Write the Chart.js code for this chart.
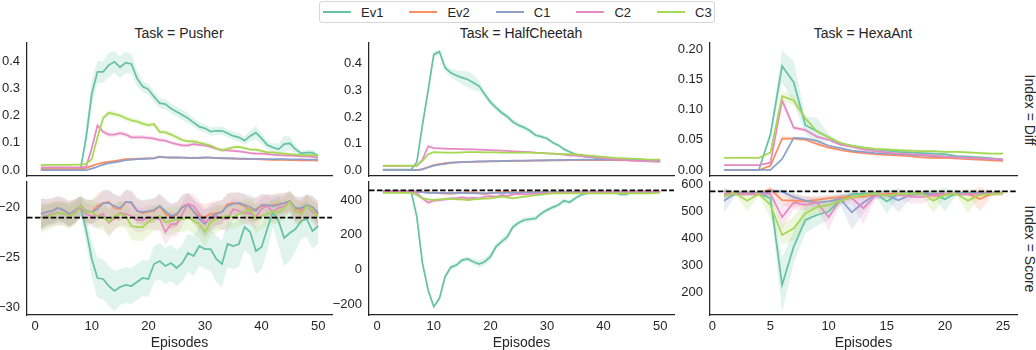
<!DOCTYPE html>
<html>
<head>
<meta charset="utf-8">
<title>Diff and Score by task</title>
<script src="https://cdn.jsdelivr.net/npm/chart.js@4.4.1/dist/chart.umd.min.js"></script>
<style>
  body { margin: 0; width: 1036px; height: 350px; background: #fff; position: relative; overflow: hidden;
         font-family: 'Liberation Sans', Arial, sans-serif; color: #262626; }
  canvas { position: absolute; }
  .title { position: absolute; font-size: 14px; transform: translate(-50%, -50%); white-space: nowrap; }
  .rowlab { position: absolute; font-size: 14px; transform: translate(-50%, -50%) rotate(90deg); white-space: nowrap; }
  #legend { position: absolute; left: 319px; top: 1px; width: 396px; height: 22px; box-sizing: border-box;
            border: 1px solid #d6d6d6; border-radius: 3px; display: flex; align-items: center; padding-left: 3px;
            font-size: 13px; }
  .item { display: flex; align-items: center; margin-right: 26px; }
  .swatch { width: 28px; height: 2px; margin-right: 10px; }
</style>
</head>
<body>
<div id="legend"></div>
<div class="title" style="left:179px; top:33px">Task = Pusher</div>
<div class="title" style="left:521px; top:33px">Task = HalfCheetah</div>
<div class="title" style="left:863px; top:33px">Task = HexaAnt</div>
<div class="rowlab" style="left:1030px; top:110px">Index = Diff</div>
<div class="rowlab" style="left:1030px; top:249px">Index = Score</div>

<canvas id="c00" width="356" height="142" style="left:-18px; top:37px"></canvas>
<canvas id="c01" width="356" height="142" style="left:324px; top:37px"></canvas>
<canvas id="c02" width="358" height="142" style="left:665px; top:37px"></canvas>
<canvas id="c10" width="356" height="174" style="left:-18px; top:176px"></canvas>
<canvas id="c11" width="356" height="174" style="left:324px; top:176px"></canvas>
<canvas id="c12" width="358" height="174" style="left:665px; top:176px"></canvas>

<script>
// series
const seriesNames = ['Ev1', 'Ev2', 'C1', 'C2', 'C3'];
const seriesColors = ['#66c2a5', '#fc8d62', '#8da0cb', '#e78ac3', '#a6d854'];

// episodes (x categories)
const episodes50 = [1,2,3,4,5,6,7,8,9,10,11,12,13,14,15,16,17,18,19,20,21,22,23,24,25,
  26,27,28,29,30,31,32,33,34,35,36,37,38,39,40,41,42,43,44,45,46,47,48,49,50];
const episodes25 = [1,2,3,4,5,6,7,8,9,10,11,12,13,14,15,16,17,18,19,20,21,22,23,24,25];

// tick labels
const xTicks50 = [0, 10, 20, 30, 40, 50];
const xTicks25 = [0, 5, 10, 15, 20, 25];
const diffTicks = [0, 0.1, 0.2, 0.3, 0.4];
const hexaDiffTicks = [0, 0.05, 0.1, 0.15, 0.2];
const pusherScoreTicks = [-30, -25, -20];
const cheetahScoreTicks = [-200, 0, 200, 400];
const hexaScoreTicks = [200, 300, 400, 500, 600];

// dashed reference score per task
const refScores = [-21.05, 456, 573];

// ---- Pusher / Diff ----
const pusherDiffEv1 = [0.003,0.003,0.003,0.003,0.003,0.003,0.003,0.003,
  0.12,0.28,0.36,0.36,0.385,0.397,0.377,0.394,0.389,0.336,0.306,0.296,
  0.269,0.245,0.242,0.226,0.214,0.202,0.19,0.174,0.159,0.153,
  0.141,0.144,0.144,0.135,0.125,0.12,0.108,0.125,0.137,0.116,
  0.092,0.083,0.076,0.095,0.098,0.076,0.061,0.064,0.064,0.051];
const pusherDiffEv1Err = [0.002,0.002,0.002,0.002,0.002,0.002,0.002,0.002,
  0.03,0.05,0.04,0.04,0.045,0.04,0.04,0.04,0.035,0.03,0.02,0.02,
  0.02,0.018,0.018,0.018,0.018,0.018,0.018,0.015,0.015,0.015,
  0.015,0.015,0.015,0.015,0.015,0.015,0.015,0.02,0.025,0.02,
  0.015,0.015,0.02,0.03,0.025,0.015,0.01,0.01,0.01,0.01];
const pusherDiffEv2 = [0.003,0.003,0.003,0.003,0.003,0.003,0.003,0.003,
  0.008,0.015,0.022,0.027,0.03,0.033,0.036,0.04,0.04,0.041,0.042,0.043,
  0.044,0.048,0.046,0.046,0.045,0.045,0.044,0.045,0.044,0.045,
  0.045,0.044,0.043,0.043,0.042,0.041,0.04,0.04,0.04,0.039,
  0.038,0.037,0.037,0.037,0.036,0.036,0.035,0.035,0.035,0.034];
const pusherDiffEv2Err = [0.002,0.002,0.002,0.002,0.002,0.002,0.002,0.002,
  0.003,0.004,0.004,0.004,0.004,0.004,0.004,0.004,0.004,0.004,0.004,0.004,
  0.004,0.004,0.004,0.004,0.004,0.003,0.003,0.003,0.003,0.003,
  0.003,0.003,0.003,0.003,0.003,0.003,0.003,0.003,0.003,0.003,
  0.003,0.003,0.003,0.003,0.003,0.003,0.003,0.003,0.003,0.003];
const pusherDiffC1 = [0,0,0,0,0,0,0,0,
  0,0.005,0.012,0.02,0.025,0.028,0.032,0.036,0.038,0.04,0.041,0.042,
  0.043,0.049,0.046,0.045,0.046,0.045,0.045,0.044,0.045,0.046,
  0.045,0.044,0.044,0.043,0.043,0.042,0.042,0.041,0.041,0.041,
  0.04,0.04,0.04,0.04,0.039,0.039,0.039,0.038,0.038,0.038];
const pusherDiffC1Err = [0.001,0.001,0.001,0.001,0.001,0.001,0.001,0.001,
  0.001,0.003,0.004,0.004,0.004,0.004,0.004,0.004,0.004,0.004,0.004,0.004,
  0.004,0.004,0.004,0.004,0.004,0.003,0.003,0.003,0.003,0.003,
  0.003,0.003,0.003,0.003,0.003,0.003,0.003,0.003,0.003,0.003,
  0.003,0.003,0.003,0.003,0.003,0.003,0.003,0.003,0.003,0.003];
const pusherDiffC2 = [0.01,0.01,0.01,0.01,0.01,0.01,0.01,0.01,
  0.012,0.08,0.163,0.14,0.13,0.13,0.135,0.13,0.12,0.12,0.12,0.118,
  0.115,0.11,0.108,0.1,0.095,0.09,0.09,0.095,0.092,0.09,
  0.085,0.078,0.073,0.072,0.07,0.068,0.066,0.062,0.06,0.06,
  0.058,0.056,0.055,0.054,0.053,0.052,0.05,0.05,0.048,0.046];
const pusherDiffC2Err = [0.002,0.002,0.002,0.002,0.002,0.002,0.002,0.002,
  0.003,0.01,0.01,0.01,0.01,0.009,0.009,0.009,0.008,0.008,0.008,0.008,
  0.008,0.008,0.007,0.007,0.007,0.007,0.007,0.007,0.007,0.006,
  0.006,0.006,0.006,0.006,0.006,0.005,0.005,0.005,0.005,0.005,
  0.005,0.005,0.005,0.005,0.005,0.004,0.004,0.004,0.004,0.004];
const pusherDiffC3 = [0.018,0.019,0.019,0.019,0.019,0.019,0.02,0.02,
  0.022,0.04,0.12,0.19,0.21,0.205,0.2,0.19,0.182,0.178,0.17,0.165,
  0.168,0.14,0.138,0.13,0.12,0.11,0.105,0.105,0.1,0.095,
  0.09,0.08,0.072,0.078,0.083,0.085,0.08,0.075,0.075,0.07,
  0.065,0.065,0.062,0.06,0.058,0.056,0.055,0.055,0.055,0.052];
const pusherDiffC3Err = [0.002,0.002,0.002,0.002,0.002,0.002,0.002,0.002,
  0.003,0.008,0.012,0.01,0.01,0.01,0.01,0.01,0.01,0.01,0.01,0.01,
  0.01,0.01,0.009,0.009,0.009,0.008,0.008,0.008,0.008,0.008,
  0.007,0.007,0.007,0.007,0.007,0.007,0.006,0.006,0.006,0.006,
  0.005,0.005,0.005,0.005,0.005,0.005,0.005,0.005,0.005,0.005];

// ---- Pusher / Score ----
const pusherScoreEv1 = [-21.0,-20.9,-20.7,-20.6,-20.6,-20.9,-20.6,-19.9,
  -22.3,-25.2,-27.1,-27.2,-27.9,-28.4,-28.0,-27.8,-27.9,-27.5,-27.1,-27.2,
  -25.7,-25.4,-25.9,-25.6,-26.1,-25.6,-24.6,-24.9,-23.9,-24.2,
  -24.2,-25.2,-25.7,-23.7,-23.9,-23.7,-22.0,-22.5,-24.4,-24.0,
  -22.2,-20.5,-21.4,-23.1,-22.6,-22.2,-21.4,-21.2,-22.4,-21.9];
const pusherScoreEv1Err = [1.0,1.0,1.0,1.0,1.0,1.0,1.0,1.0,
  1.2,1.8,2.0,2.0,2.0,2.0,1.8,1.8,1.8,1.8,1.8,1.8,
  1.8,1.8,1.8,1.8,1.8,1.8,1.9,2.0,2.0,2.0,
  2.2,2.3,2.3,2.3,2.3,2.3,2.3,2.3,2.3,2.3,
  2.2,1.5,2.5,2.8,2.8,2.2,1.8,1.8,1.8,1.8];
const pusherScoreEv2 = [-20.7,-20.5,-20.4,-20.1,-20.3,-20.7,-20.4,-19.9,
  -20.4,-20.5,-19.9,-19.6,-19.5,-20.1,-20.2,-19.5,-19.6,-20.4,-20.6,-20.5,
  -20.4,-19.9,-20.7,-21.0,-20.8,-20.0,-19.7,-20.5,-20.9,-21.0,
  -20.7,-20.6,-20.5,-19.7,-19.6,-19.7,-19.9,-20.4,-20.2,-19.9,
  -19.9,-19.8,-19.7,-19.6,-19.4,-20.2,-20.3,-19.9,-20.0,-20.7];
const pusherScoreEv2Err = [1.5,1.3,1.2,1.2,1.2,1.3,1.2,1.0,
  1.1,1.2,1.2,1.2,1.2,1.3,1.2,1.2,1.1,1.2,1.2,1.2,
  1.2,1.2,1.3,1.3,1.2,1.2,1.1,1.2,1.3,1.3,
  1.2,1.2,1.2,1.1,1.1,1.1,1.2,1.2,1.2,1.1,
  1.1,1.1,1.1,1.0,1.0,1.2,1.2,1.1,1.1,1.2];
const pusherScoreC1 = [-20.7,-20.5,-20.4,-20.1,-20.3,-20.7,-20.4,-19.9,
  -20.4,-20.5,-20.2,-19.6,-19.6,-19.9,-20.1,-19.5,-19.5,-20.4,-20.5,-20.4,
  -20.3,-19.9,-20.4,-20.9,-20.7,-20.0,-19.8,-20.4,-21.2,-21.7,
  -21.0,-20.7,-20.5,-19.9,-19.7,-19.6,-19.8,-20.0,-20.4,-19.8,
  -19.8,-19.9,-19.8,-19.6,-19.4,-20.1,-20.1,-19.8,-20.0,-20.6];
const pusherScoreC1Err = [1.6,1.3,1.3,1.2,1.2,1.3,1.2,1.0,
  1.2,1.2,1.2,1.3,1.3,1.2,1.2,1.2,1.2,1.3,1.2,1.2,
  1.2,1.2,1.3,1.2,1.2,1.2,1.2,1.2,1.3,1.4,
  1.3,1.2,1.2,1.2,1.1,1.1,1.1,1.2,1.2,1.1,
  1.1,1.1,1.1,1.0,1.0,1.2,1.1,1.1,1.1,1.2];
const pusherScoreC2 = [-21.0,-20.9,-20.7,-20.6,-20.7,-20.8,-20.5,-20.1,
  -20.7,-20.9,-20.9,-20.7,-21.6,-21.1,-20.6,-20.7,-20.9,-21.3,-21.3,-21.0,
  -21.1,-21.2,-22.5,-21.7,-21.7,-20.7,-19.7,-19.9,-20.7,-21.5,
  -21.2,-20.9,-21.1,-21.2,-20.2,-20.4,-20.6,-20.6,-21.0,-20.2,
  -19.9,-20.5,-20.1,-19.9,-19.5,-20.5,-20.5,-19.9,-20.5,-20.9];
const pusherScoreC2Err = [1.3,1.2,1.2,1.2,1.2,1.2,1.2,1.0,
  1.1,1.1,1.2,1.2,1.4,1.2,1.2,1.2,1.2,1.3,1.2,1.2,
  1.2,1.2,1.3,1.3,1.2,1.2,1.1,1.2,1.3,1.3,
  1.2,1.2,1.2,1.2,1.1,1.1,1.1,1.2,1.2,1.1,
  1.1,1.1,1.1,1.0,1.0,1.2,1.2,1.1,1.1,1.2];
const pusherScoreC3 = [-21.1,-21.0,-20.8,-20.6,-20.6,-20.9,-20.6,-19.9,
  -20.5,-20.5,-20.9,-21.0,-21.5,-20.9,-20.7,-20.9,-21.9,-22.0,-22.0,-21.5,
  -21.1,-20.9,-21.5,-21.4,-21.2,-21.2,-21.0,-21.4,-21.7,-22.5,
  -21.5,-21.2,-21.0,-20.9,-21.0,-20.7,-20.5,-20.2,-21.2,-20.9,
  -20.7,-20.5,-20.5,-20.1,-19.5,-20.4,-20.7,-19.9,-20.3,-21.0];
const pusherScoreC3Err = [1.5,1.3,1.3,1.2,1.2,1.3,1.2,1.0,
  1.1,1.2,1.3,1.3,1.4,1.3,1.3,1.3,1.4,1.4,1.4,1.3,
  1.3,1.3,1.4,1.4,1.3,1.3,1.3,1.3,1.4,1.5,
  1.3,1.3,1.3,1.2,1.2,1.2,1.2,1.2,1.5,1.3,
  1.2,1.2,1.2,1.1,1.1,1.2,1.2,1.1,1.1,1.2];

// ---- HalfCheetah / Diff ----
const cheetahDiffEv1 = [0.002,0.002,0.002,0.002,0.002,0.002,0.03,0.17,0.3,0.435,
  0.445,0.385,0.366,0.356,0.348,0.341,0.329,0.316,0.285,0.256,
  0.235,0.216,0.201,0.181,0.169,0.16,0.148,0.131,0.126,0.119,
  0.104,0.094,0.079,0.069,0.06,0.054,0.05,0.048,0.044,0.041,
  0.04,0.039,0.038,0.038,0.037,0.037,0.036,0.036,0.035,0.035];
const cheetahDiffEv1Err = [0.001,0.001,0.001,0.001,0.001,0.001,0.005,0.01,0.01,0.01,
  0.01,0.012,0.015,0.02,0.025,0.03,0.028,0.02,0.012,0.012,
  0.012,0.01,0.01,0.01,0.01,0.01,0.01,0.008,0.008,0.008,
  0.006,0.006,0.006,0.006,0.006,0.005,0.005,0.005,0.005,0.005,
  0.004,0.004,0.004,0.004,0.004,0.004,0.004,0.004,0.004,0.004];
const cheetahDiffEv2 = [0,0,0,0,0,0,0,0.004,0.012,0.019,
  0.023,0.026,0.028,0.029,0.03,0.031,0.031,0.032,0.032,0.033,
  0.033,0.034,0.034,0.034,0.035,0.035,0.035,0.036,0.036,0.036,
  0.037,0.037,0.037,0.038,0.038,0.038,0.038,0.038,0.038,0.038,
  0.038,0.038,0.037,0.037,0.037,0.037,0.036,0.036,0.036,0.036];
const cheetahDiffEv2Err = [0.001,0.001,0.001,0.001,0.001,0.001,0.001,0.002,0.002,0.002,
  0.002,0.002,0.002,0.002,0.002,0.002,0.002,0.002,0.002,0.002,
  0.002,0.002,0.002,0.002,0.002,0.002,0.002,0.002,0.002,0.002,
  0.002,0.002,0.002,0.002,0.002,0.002,0.002,0.002,0.002,0.002,
  0.002,0.002,0.002,0.002,0.002,0.002,0.002,0.002,0.002,0.002];
const cheetahDiffC1 = [0,0,0,0,0,0,0,0.003,0.01,0.017,
  0.021,0.024,0.027,0.029,0.03,0.031,0.032,0.033,0.033,0.034,
  0.034,0.035,0.035,0.036,0.036,0.036,0.037,0.037,0.037,0.038,
  0.038,0.038,0.039,0.039,0.039,0.04,0.04,0.04,0.04,0.04,
  0.04,0.04,0.039,0.039,0.039,0.039,0.038,0.038,0.038,0.038];
const cheetahDiffC1Err = [0.001,0.001,0.001,0.001,0.001,0.001,0.001,0.002,0.002,0.002,
  0.002,0.002,0.002,0.002,0.002,0.002,0.002,0.002,0.002,0.002,
  0.002,0.002,0.002,0.002,0.002,0.002,0.002,0.002,0.002,0.002,
  0.002,0.002,0.002,0.002,0.002,0.002,0.002,0.002,0.002,0.002,
  0.002,0.002,0.002,0.002,0.002,0.002,0.002,0.002,0.002,0.002];
const cheetahDiffC2 = [0.016,0.016,0.016,0.016,0.016,0.016,0.016,0.04,0.09,0.083,
  0.082,0.081,0.08,0.08,0.079,0.078,0.078,0.077,0.076,0.075,
  0.074,0.073,0.072,0.071,0.07,0.069,0.068,0.066,0.065,0.063,
  0.062,0.06,0.058,0.056,0.055,0.053,0.051,0.049,0.047,0.045,
  0.043,0.041,0.04,0.038,0.036,0.035,0.034,0.033,0.032,0.031];
const cheetahDiffC2Err = [0.001,0.001,0.001,0.001,0.001,0.001,0.001,0.003,0.004,0.003,
  0.003,0.003,0.003,0.003,0.003,0.003,0.003,0.003,0.003,0.003,
  0.003,0.003,0.003,0.003,0.003,0.003,0.003,0.003,0.003,0.003,
  0.002,0.002,0.002,0.002,0.002,0.002,0.002,0.002,0.002,0.002,
  0.002,0.002,0.002,0.002,0.002,0.002,0.002,0.002,0.002,0.002];
const cheetahDiffC3 = [0.017,0.017,0.017,0.017,0.017,0.017,0.017,0.035,0.06,0.068,
  0.067,0.066,0.066,0.066,0.067,0.068,0.068,0.068,0.067,0.067,
  0.067,0.066,0.066,0.066,0.066,0.066,0.066,0.065,0.064,0.063,
  0.062,0.061,0.06,0.06,0.059,0.058,0.056,0.054,0.052,0.05,
  0.048,0.046,0.045,0.044,0.043,0.042,0.041,0.04,0.04,0.04];
const cheetahDiffC3Err = [0.001,0.001,0.001,0.001,0.001,0.001,0.001,0.003,0.003,0.003,
  0.003,0.003,0.003,0.003,0.003,0.003,0.003,0.003,0.003,0.003,
  0.003,0.003,0.003,0.003,0.003,0.003,0.003,0.003,0.003,0.003,
  0.002,0.002,0.002,0.002,0.002,0.002,0.002,0.002,0.002,0.002,
  0.002,0.002,0.002,0.002,0.002,0.002,0.002,0.002,0.002,0.002];

// ---- HalfCheetah / Score ----
const cheetahScoreEv1 = [448,448,448,448,448,448,304,35,-119,-215,
  -167,-42,12,25,54,60,44,31,44,73,
  131,160,188,246,269,285,290,294,323,342,
  358,371,396,387,410,429,438,442,444,444,
  444,444,432,432,448,448,448,448,448,448];
const cheetahScoreEv1Err = [4,4,4,4,4,4,12,15,12,10,
  12,15,15,15,15,15,18,22,22,20,
  18,20,22,18,15,15,15,15,14,14,
  14,12,12,12,10,8,8,8,6,6,
  6,6,12,12,6,5,5,5,5,5];
const cheetahScoreEv2 = [450,450,450,450,450,450,448,446,444,443,
  440,438,437,440,443,445,444,442,435,440,
  444,446,447,445,444,446,446,447,447,447,
  447,447,447,447,447,448,448,448,448,448,
  448,448,448,448,448,448,448,448,448,448];
const cheetahScoreEv2Err = [4,4,4,4,4,4,5,6,6,6,
  8,10,10,8,6,6,6,8,10,8,
  6,5,5,5,5,4,4,4,4,4,
  4,4,4,4,4,4,4,4,4,4,
  4,4,4,4,4,4,4,4,4,4];
const cheetahScoreC1 = [450,450,450,450,450,450,447,445,442,442,
  442,441,440,441,441,440,440,438,438,440,
  442,442,441,442,443,444,444,445,445,445,
  445,446,446,446,446,446,447,447,447,447,
  447,447,447,447,447,447,447,447,447,447];
const cheetahScoreC1Err = [4,4,4,4,4,4,5,6,6,6,
  7,8,8,8,7,7,8,8,8,7,
  6,6,6,5,5,5,5,5,4,4,
  4,4,4,4,4,4,4,4,4,4,
  4,4,4,4,4,4,4,4,4,4];
const cheetahScoreC2 = [452,452,452,452,452,452,440,410,385,396,
  400,404,410,410,415,410,413,410,419,423,
  419,429,423,433,435,433,435,435,438,440,
  442,442,443,443,444,444,444,445,445,445,
  446,446,446,447,447,447,448,448,448,448];
const cheetahScoreC2Err = [4,4,4,4,4,4,8,12,15,12,
  10,10,10,10,10,10,10,10,8,8,
  8,8,8,8,6,6,6,6,6,6,
  5,5,5,5,5,5,5,5,5,5,
  4,4,4,4,4,4,4,4,4,4];
const cheetahScoreC3 = [442,442,442,442,442,442,429,410,404,400,
  404,406,408,404,404,400,404,406,408,410,
  415,419,415,410,415,419,423,429,431,435,
  438,438,438,438,438,438,438,438,438,438,
  438,438,438,438,438,438,438,438,440,442];
const cheetahScoreC3Err = [4,4,4,4,4,4,6,8,8,8,
  7,7,7,7,7,7,7,7,7,7,
  7,7,7,7,7,6,6,6,6,6,
  5,5,5,5,5,5,5,5,5,5,
  4,4,4,4,4,4,4,4,4,4];

// ---- HexaAnt / Diff ----
const hexaDiffEv1 = [0,0,0,0,0.059,0.172,0.145,0.074,0.064,0.054,
  0.043,0.04,0.037,0.034,0.032,0.03,0.029,0.028,0.027,0.026,
  0.023,0.022,0.021,0.019,0.017];
const hexaDiffEv1Err = [0.0005,0.0005,0.0005,0.0005,0.005,0.026,0.035,0.014,0.022,0.006,
  0.003,0.002,0.002,0.002,0.002,0.002,0.002,0.002,0.002,0.002,
  0.002,0.002,0.002,0.002,0.002];
const hexaDiffEv2 = [0,0,0,0,0.007,0.052,0.052,0.05,0.043,0.037,
  0.033,0.03,0.028,0.026,0.025,0.024,0.023,0.021,0.02,0.02,
  0.019,0.018,0.017,0.016,0.015];
const hexaDiffEv2Err = [0.0005,0.0005,0.0005,0.0005,0.002,0.004,0.003,0.002,0.002,0.002,
  0.002,0.002,0.002,0.002,0.002,0.002,0.002,0.002,0.002,0.002,
  0.002,0.002,0.002,0.002,0.002];
const hexaDiffC1 = [0,0,0,0,0,0.018,0.053,0.052,0.048,0.04,
  0.036,0.032,0.03,0.028,0.027,0.026,0.025,0.024,0.023,0.022,
  0.021,0.02,0.019,0.018,0.017];
const hexaDiffC1Err = [0.0005,0.0005,0.0005,0.0005,0.0005,0.003,0.002,0.002,0.002,0.002,
  0.002,0.002,0.002,0.002,0.002,0.002,0.002,0.002,0.002,0.002,
  0.002,0.002,0.002,0.002,0.002];
const hexaDiffC2 = [0.008,0.008,0.008,0.008,0.012,0.115,0.07,0.066,0.055,0.05,
  0.042,0.038,0.034,0.031,0.029,0.027,0.026,0.025,0.024,0.022,
  0.021,0.02,0.019,0.018,0.017];
const hexaDiffC2Err = [0.0005,0.0005,0.0005,0.0005,0.002,0.008,0.004,0.003,0.003,0.002,
  0.002,0.002,0.002,0.002,0.002,0.002,0.002,0.002,0.002,0.002,
  0.002,0.002,0.002,0.002,0.002];
const hexaDiffC3 = [0.02,0.02,0.02,0.02,0.029,0.122,0.115,0.085,0.064,0.054,
  0.045,0.04,0.037,0.035,0.034,0.033,0.032,0.031,0.031,0.03,
  0.03,0.029,0.028,0.027,0.027];
const hexaDiffC3Err = [0.0005,0.0005,0.0005,0.0005,0.002,0.008,0.008,0.004,0.003,0.002,
  0.002,0.002,0.002,0.002,0.002,0.002,0.002,0.002,0.002,0.002,
  0.002,0.002,0.002,0.002,0.002];

// ---- HexaAnt / Score ----
const hexaScoreEv1 = [560,566,566,566,548,227,369,468,486,499,
  542,564,564,567,536,564,566,566,564,544,
  567,567,567,567,567];
const hexaScoreEv1Err = [25,8,8,8,20,100,60,50,40,30,
  20,10,10,8,45,10,8,8,10,45,
  8,8,8,8,8];
const hexaScoreEv2 = [564,566,566,566,580,541,539,536,542,548,
  552,554,554,560,564,564,564,566,557,564,
  564,564,545,564,569];
const hexaScoreEv2Err = [10,8,8,8,10,20,25,20,15,12,
  10,10,10,8,8,8,8,8,15,8,
  8,8,45,10,10];
const hexaScoreC1 = [539,566,566,566,573,573,552,539,532,536,
  545,496,532,560,560,540,560,564,564,564,
  564,564,567,567,567];
const hexaScoreC1Err = [45,8,8,8,8,10,15,15,20,20,
  20,65,40,15,15,45,15,10,10,10,
  8,8,8,8,8];
const hexaScoreC2 = [564,564,564,564,564,478,532,523,532,478,
  542,548,511,557,560,560,554,552,560,564,
  564,564,564,567,567];
const hexaScoreC2Err = [10,8,8,8,8,45,25,20,20,50,
  15,20,60,15,10,10,25,25,10,8,
  8,8,8,8,8];
const hexaScoreC3 = [557,566,539,564,523,412,437,492,515,523,
  539,552,560,566,557,564,564,566,539,560,
  564,539,560,564,567];
const hexaScoreC3Err = [15,8,40,8,50,35,45,40,25,20,
  15,10,10,8,10,8,8,8,45,10,
  8,45,10,8,8];

// ---------------------------------------------------------------

const axisColor = '#262626';
Chart.defaults.font.family = "'Liberation Sans', Arial, sans-serif";
Chart.defaults.color = axisColor;

function fmt(v, dec) {
  const s = Math.abs(v).toFixed(dec);
  return v < 0 ? '\u2212' + s : s;
}

function rgba(hex, a) {
  const n = parseInt(hex.slice(1), 16);
  return `rgba(${(n >> 16) & 255}, ${(n >> 8) & 255}, ${n & 255}, ${a})`;
}

// bands + lines (+ dashed reference)
function buildDatasets(xs, means, errs, ref, xMin, xMax) {
  const ds = [];
  means.forEach((m, i) => {
    ds.push({ data: xs.map((x, k) => ({ x, y: m[k] + errs[i][k] })), borderColor: 'transparent',
      borderWidth: 0, pointRadius: 0, fill: false, order: 30 - i });
    ds.push({ data: xs.map((x, k) => ({ x, y: m[k] - errs[i][k] })), borderColor: 'transparent',
      borderWidth: 0, pointRadius: 0, fill: '-1', backgroundColor: rgba(seriesColors[i], 0.2), order: 30 - i });
  });
  means.forEach((m, i) => {
    ds.push({ data: xs.map((x, k) => ({ x, y: m[k] })), borderColor: seriesColors[i], borderWidth: 1.75,
      pointRadius: 0, fill: false, order: 10 - i });
  });
  if (ref !== null) {
    ds.push({ data: [{ x: xMin, y: ref }, { x: xMax, y: ref }], borderColor: '#000', borderWidth: 1.75,
      borderDash: [5.5, 2.4], pointRadius: 0, fill: false, order: 0 });
  }
  return ds;
}

function makePanel(id, p) {
  new Chart(document.getElementById(id), {
    type: 'line',
    data: { datasets: buildDatasets(p.xs, p.means, p.errs, p.ref, p.xMin, p.xMax) },
    options: {
      responsive: false, animation: false, devicePixelRatio: 1, events: [],
      layout: { padding: { top: 6, right: 6, left: 0, bottom: 0 } },
      plugins: { legend: { display: false }, tooltip: { enabled: false } },
      elements: { line: { tension: 0 } },
      scales: {
        x: {
          type: 'linear', min: p.xMin, max: p.xMax,
          grid: { display: false, drawTicks: false },
          border: { display: true, color: axisColor, width: 1.25 },
          ticks: { display: p.showX, padding: 4, font: { size: 13 }, color: axisColor,
            callback: v => fmt(v, 0) },
          title: { display: p.showX, text: 'Episodes', color: axisColor,
            font: { size: 14, lineHeight: 1.05 }, padding: { top: 0, bottom: 0 } },
          afterBuildTicks: s => { s.ticks = p.xTicks.map(v => ({ value: v })); },
          afterFit: s => { s.height = p.showX ? 35 : 3; s.paddingLeft = 0; s.paddingRight = 0; }
        },
        y: {
          type: 'linear', min: p.yMin, max: p.yMax,
          grid: { display: false, drawTicks: false },
          border: { display: true, color: axisColor, width: 1.25 },
          ticks: { padding: 7, font: { size: 13 }, color: axisColor, callback: v => fmt(v, p.yDec) },
          afterBuildTicks: s => { s.ticks = p.yTicks.map(v => ({ value: v })); },
          afterFit: s => { s.width = 45; s.paddingTop = 0; s.paddingBottom = 0; }
        }
      }
    }
  });
}

const x50 = { xs: episodes50, xTicks: xTicks50, xMin: -1.45, xMax: 52.45 };
const x25 = { xs: episodes25, xTicks: xTicks25, xMin: -0.2, xMax: 26.2 };

makePanel('c00', { ...x50, showX: false, ref: null, yMin: -0.022, yMax: 0.466, yTicks: diffTicks, yDec: 1,
  means: [pusherDiffEv1, pusherDiffEv2, pusherDiffC1, pusherDiffC2, pusherDiffC3],
  errs: [pusherDiffEv1Err, pusherDiffEv2Err, pusherDiffC1Err, pusherDiffC2Err, pusherDiffC3Err] });
makePanel('c01', { ...x50, showX: false, ref: null, yMin: -0.022, yMax: 0.478, yTicks: diffTicks, yDec: 1,
  means: [cheetahDiffEv1, cheetahDiffEv2, cheetahDiffC1, cheetahDiffC2, cheetahDiffC3],
  errs: [cheetahDiffEv1Err, cheetahDiffEv2Err, cheetahDiffC1Err, cheetahDiffC2Err, cheetahDiffC3Err] });
makePanel('c02', { ...x25, showX: false, ref: null, yMin: -0.01, yMax: 0.21, yTicks: hexaDiffTicks, yDec: 2,
  means: [hexaDiffEv1, hexaDiffEv2, hexaDiffC1, hexaDiffC2, hexaDiffC3],
  errs: [hexaDiffEv1Err, hexaDiffEv2Err, hexaDiffC1Err, hexaDiffC2Err, hexaDiffC3Err] });
makePanel('c10', { ...x50, showX: true, ref: refScores[0], yMin: -30.8, yMax: -17.5, yTicks: pusherScoreTicks, yDec: 0,
  means: [pusherScoreEv1, pusherScoreEv2, pusherScoreC1, pusherScoreC2, pusherScoreC3],
  errs: [pusherScoreEv1Err, pusherScoreEv2Err, pusherScoreC1Err, pusherScoreC2Err, pusherScoreC3Err] });
makePanel('c11', { ...x50, showX: true, ref: refScores[1], yMin: -263, yMax: 504, yTicks: cheetahScoreTicks, yDec: 0,
  means: [cheetahScoreEv1, cheetahScoreEv2, cheetahScoreC1, cheetahScoreC2, cheetahScoreC3],
  errs: [cheetahScoreEv1Err, cheetahScoreEv2Err, cheetahScoreC1Err, cheetahScoreC2Err, cheetahScoreC3Err] });
makePanel('c12', { ...x25, showX: true, ref: refScores[2], yMin: 116, yMax: 608, yTicks: hexaScoreTicks, yDec: 0,
  means: [hexaScoreEv1, hexaScoreEv2, hexaScoreC1, hexaScoreC2, hexaScoreC3],
  errs: [hexaScoreEv1Err, hexaScoreEv2Err, hexaScoreC1Err, hexaScoreC2Err, hexaScoreC3Err] });

// legend
const legend = document.getElementById('legend');
seriesNames.forEach((name, i) => {
  const item = document.createElement('div');
  item.className = 'item';
  item.innerHTML = `<span class="swatch" style="background:${seriesColors[i]}"></span><span>${name}</span>`;
  legend.appendChild(item);
});
</script>
</body>
</html>
